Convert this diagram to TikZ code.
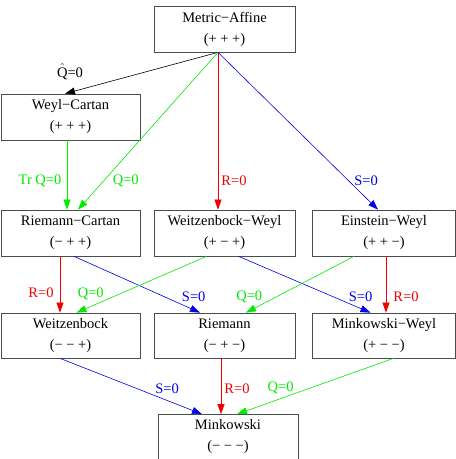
\documentclass[tikz,border=0pt]{standalone}
\usepackage{amsmath}
\usepackage{fontspec}
\setmainfont{Liberation Serif}
\usetikzlibrary{arrows.meta}

\definecolor{qgreen}{RGB}{0,235,0}
\definecolor{rred}{RGB}{240,0,0}
\definecolor{sblue}{RGB}{0,0,235}

\begin{document}
\begin{tikzpicture}[x=1pt, y=-1pt, node distance=102.5pt,
    every node/.style={font=\fontsize{14.5}{21}\selectfont},
    box/.style={draw=black!70, line width=0.7pt, rectangle, minimum width=141pt, minimum height=46pt, align=center, inner sep=0pt},
    conn/.style={line width=0.6pt, -{Triangle[length=10pt,width=7pt]}},
    lbl/.style={inner sep=0pt, anchor=center}]
    \useasboundingbox (0,0) rectangle (456,459);
    % Spaces
    \node[box] (ma) at (224.5,29) {Metric−Affine\\(+ + +)};
    \node[box, minimum width=139pt] (rc) at (70.5,233) {Riemann−Cartan\\(− + +)};
    \node[box] (ww) at (224.5,233) {Weitzenbock−Weyl\\(+ − +)};
    \node[box, minimum width=143pt] (ew) at (384,233) {Einstein−Weyl\\(+ + −)};
    \node[box, minimum width=139pt, above of=rc, yshift=13.5pt] (wc) {Weyl−Cartan\\(+ + +)};
    \node[box, minimum width=139pt, minimum height=45pt, below of=rc] (weitz) {Weitzenbock\\(− − +)};
    \node[box, minimum height=45pt, below of=ww] (riem) {Riemann\\(− + −)};
    \node[box, minimum width=143pt, minimum height=45pt, below of=ew] (mw) {Minkowski−Weyl\\(+ − −)};
    \node[box, minimum width=140pt, minimum height=45pt, below of=riem, xshift=3.5pt, yshift=1pt] (mink) {Minkowski\\(− − −)};

    % Restrictions
    \draw[conn, black] ([xshift=-6.5pt]ma.south) -- node[lbl, pos=1, yshift=22pt, xshift=5pt] {$\hat{\text{Q}}$=0} ([xshift=-5.5pt]wc.north);
    \draw[conn, qgreen] ([xshift=-6.5pt]ma.south) -- node[lbl, pos=0.816, xshift=22pt] {Q=0} ([xshift=7.5pt]rc.north);
    \draw[conn, rred] ([xshift=-6.5pt]ma.south) -- node[lbl, pos=0.816, xshift=16pt] {R=0} ([xshift=-6.5pt]ww.north);
    \draw[conn, sblue] ([xshift=-6.5pt]ma.south) -- node[lbl, pos=0.816, xshift=17.5pt] {S=0} ([xshift=-6pt]ew.north);
    \draw[conn, qgreen] ([xshift=-3.5pt]wc.south) -- node[lbl, pos=0.586, xshift=-27pt] {Tr Q=0} ([xshift=-3.5pt]rc.north);

    \draw[conn, rred] ([xshift=-10.5pt]rc.south) -- node[lbl, pos=0.65, xshift=-19pt] {R=0} ([xshift=-10.5pt]weitz.north);
    \draw[conn, sblue] ([xshift=3.5pt]rc.south) -- node[lbl, pos=0.72, xshift=29pt] {S=0} ([xshift=-24.5pt]riem.north);
    \draw[conn, qgreen] ([xshift=-18pt]ww.south) -- node[lbl, pos=0.667, xshift=-29pt] {Q=0} ([xshift=6pt]weitz.north);
    \draw[conn, sblue] ([xshift=14pt]ww.south) -- node[lbl, pos=0.72, xshift=27pt] {S=0} ([xshift=-13.5pt]mw.north);
    \draw[conn, qgreen] ([xshift=-30pt]ew.south) -- node[lbl, pos=0.72, xshift=-27pt] {Q=0} ([xshift=21.5pt]riem.north);
    \draw[conn, rred] ([xshift=2pt]ew.south) -- node[lbl, pos=0.72, xshift=20pt] {R=0} ([xshift=2pt]mw.north);

    \draw[conn, sblue] ([xshift=-10.5pt]weitz.south) -- node[lbl, pos=0.536, xshift=31pt] {S=0} ([xshift=-26pt]mink.north);
    \draw[conn, rred] ([xshift=-3.5pt]riem.south) -- node[lbl, pos=0.536, xshift=16pt] {R=0} ([xshift=-7pt]mink.north);
    \draw[conn, qgreen] ([xshift=9.5pt]mw.south) -- node[lbl, pos=0.536, xshift=-29pt] {Q=0} ([xshift=9pt]mink.north);
\end{tikzpicture}
\end{document}
